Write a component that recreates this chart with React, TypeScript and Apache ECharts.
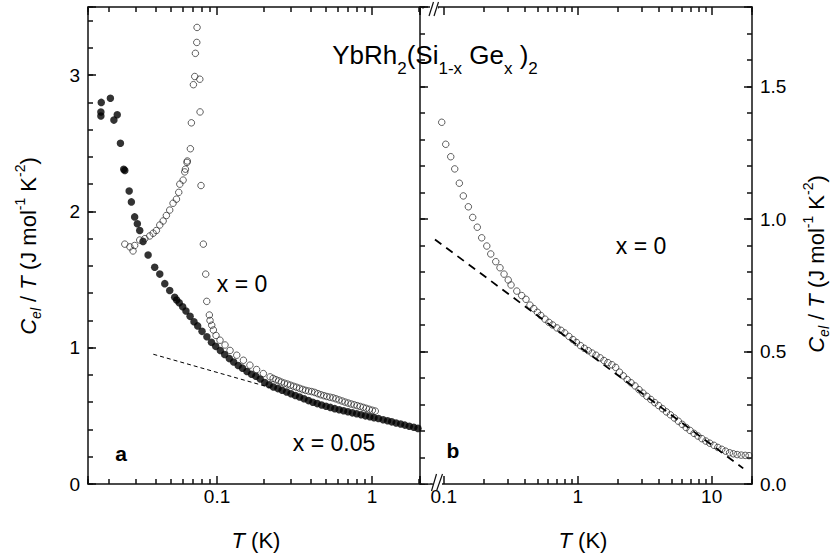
import React, { useEffect, useRef } from "react";
import * as echarts from "echarts";

const FONT = "'Liberation Sans', Arial, Helvetica, sans-serif";

// ---------- Panel a : x = 0.05 (filled circles) ----------
const A_X005_T = [
  0.0178, 0.0178, 0.0179, 0.0205, 0.0216, 0.0227, 0.0238, 0.025, 0.0254, 0.0271, 0.028, 0.0294, 0.0306, 0.0317,
  0.0333, 0.0359, 0.0396, 0.0427, 0.046, 0.0495, 0.0533, 0.0549,
  0.057, 0.06, 0.063, 0.067, 0.071, 0.075, 0.08, 0.086, 0.092, 0.098, 0.105, 0.112, 0.12, 0.128, 0.137, 0.146,
  0.156, 0.167, 0.178, 0.19, 0.203, 0.217, 0.231,
  0.247, 0.263, 0.281, 0.3, 0.32, 0.341, 0.364, 0.389, 0.415, 0.443, 0.473, 0.505, 0.539, 0.575, 0.614, 0.655,
  0.699, 0.746, 0.796, 0.85, 0.907, 0.968, 1.03, 1.1, 1.18, 1.26, 1.34, 1.43, 1.53, 1.63, 1.74, 1.86, 1.98,
];
const A_X005_C = [
  2.7, 2.73, 2.8, 2.83, 2.67, 2.71, 2.5, 2.31, 2.3, 2.15, 2.07, 1.96, 1.91, 1.86,
  1.78, 1.68, 1.59, 1.54, 1.47, 1.42, 1.37, 1.35,
  1.33, 1.3, 1.27, 1.23, 1.19, 1.16, 1.12, 1.08, 1.04, 1.01, 0.98, 0.95, 0.92, 0.895, 0.87, 0.85,
  0.825, 0.805, 0.79, 0.77, 0.745, 0.728, 0.712,
  0.7, 0.688, 0.675, 0.662, 0.65, 0.638, 0.626, 0.612, 0.6, 0.59, 0.58, 0.57, 0.562, 0.553, 0.545, 0.537,
  0.53, 0.522, 0.515, 0.508, 0.5, 0.494, 0.487, 0.48, 0.472, 0.464, 0.456, 0.448, 0.44, 0.432, 0.424, 0.416, 0.408,
];

// ---------- Panel a : x = 0 (open circles) ----------
const A_X0_T = [
  0.0254, 0.0274, 0.0287, 0.0294, 0.0317, 0.0342, 0.0368, 0.0387, 0.0406, 0.0427, 0.0449, 0.0471, 0.0495, 0.052,
  0.0547, 0.0566, 0.0575, 0.0604, 0.0619, 0.0625, 0.064, 0.0643, 0.0673, 0.0683, 0.0704, 0.0718, 0.0725, 0.074,
  0.0743, 0.0774, 0.0777, 0.0788, 0.0816, 0.0845, 0.0858, 0.0892, 0.0901, 0.0924, 0.0947, 0.0985, 0.1045, 0.1126,
  0.1213, 0.134, 0.148, 0.163, 0.18, 0.199,
  0.22, 0.23, 0.24, 0.25, 0.26, 0.272, 0.285, 0.298, 0.312, 0.326, 0.341, 0.357, 0.373, 0.39, 0.408, 0.427, 0.447,
  0.467, 0.489, 0.511, 0.535, 0.56, 0.585, 0.612, 0.641, 0.67, 0.701, 0.733, 0.767, 0.802, 0.839, 0.878, 0.918,
  0.96, 1.005, 1.05,
];
const A_X0_C = [
  1.76, 1.74, 1.71, 1.75, 1.79, 1.8, 1.82, 1.84, 1.86, 1.9, 1.93, 1.97, 2.01, 2.06,
  2.09, 2.14, 2.2, 2.23, 2.29, 2.31, 2.36, 2.37, 2.46, 2.65, 2.93, 2.99, 3.16, 3.24,
  3.35, 2.97, 2.73, 2.19, 1.76, 1.54, 1.34, 1.24, 1.2, 1.165, 1.13, 1.09, 1.055, 1.02,
  0.98, 0.945, 0.908, 0.872, 0.84, 0.81,
  0.786, 0.775, 0.765, 0.757, 0.748, 0.74, 0.733, 0.725, 0.717, 0.71, 0.702, 0.694, 0.687, 0.682, 0.678, 0.672, 0.663,
  0.655, 0.648, 0.642, 0.637, 0.632, 0.625, 0.617, 0.609, 0.601, 0.594, 0.587, 0.581, 0.575, 0.569, 0.562, 0.555,
  0.548, 0.541, 0.535,
];

// dashed guide in panel a
const A_FIT_T = [0.0388, 0.22];
const A_FIT_C = [0.952, 0.708];

// ---------- Panel b : x = 0 (open circles) ----------
const B_X0_T = [
  0.0966, 0.1035, 0.1128, 0.1208, 0.1308, 0.14, 0.1527, 0.1645, 0.178, 0.192, 0.2096, 0.2244, 0.2445, 0.263, 0.282,
  0.303, 0.318, 0.351, 0.382, 0.411,
  0.44, 0.47, 0.5, 0.53, 0.57, 0.61, 0.65, 0.7, 0.75, 0.8, 0.86, 0.92, 0.98, 1.05, 1.12, 1.2, 1.28, 1.37, 1.47,
  1.57, 1.68, 1.8, 1.92, 2.05, 2.19, 2.34, 2.5, 2.68, 2.87, 3.07, 3.28, 3.51, 3.76, 4.02, 4.3, 4.6, 4.92, 5.27,
  5.64, 6.03, 6.45, 6.9, 7.39, 7.9, 8.46, 9.05, 9.68, 10.4, 11.1, 11.9, 12.7, 13.6, 14.5, 15.5, 16.6, 17.8, 19.0,
];
const B_X0_C = [
  1.365, 1.282, 1.235, 1.189, 1.135, 1.087, 1.046, 1.006, 0.969, 0.929, 0.898, 0.868, 0.839, 0.816, 0.792,
  0.77, 0.751, 0.728, 0.711, 0.697,
  0.675, 0.662, 0.648, 0.636, 0.622, 0.61, 0.6, 0.589, 0.58, 0.57, 0.557, 0.545, 0.534, 0.522, 0.512, 0.503, 0.494,
  0.486, 0.476, 0.466, 0.458, 0.45, 0.44, 0.422, 0.408, 0.394, 0.382, 0.37, 0.356, 0.343, 0.331, 0.319, 0.307,
  0.296, 0.284, 0.272, 0.261, 0.249, 0.237, 0.225, 0.213, 0.202, 0.191, 0.181, 0.171, 0.162, 0.154, 0.146, 0.138,
  0.131, 0.124, 0.118, 0.114, 0.111, 0.109, 0.108, 0.107,
];

// dashed guide in panel b
const B_FIT_T = [0.086, 17.2];
const B_FIT_C = [0.923, 0.059];

// ---------- ticks ----------
const A_X_LABELS = [0.1, 1];
const B_X_LABELS = [0.1, 1, 10];
const A_Y_LABELS = [0, 1, 2, 3];
const B_Y_LABELS = [0, 0.5, 1, 1.5];
const LOG_TICK_MULTIPLIERS = [1, 2, 3, 4, 5, 6, 7, 8, 9]; // 1 = decade (major)
const A_Y_MAJOR_STEP = 1;
const A_Y_MINOR_STEP = 0.2;
const B_Y_MAJOR_STEP = 0.5;
const B_Y_MINOR_STEP = 0.1;

const A_T_RANGE = [0.0147, 2.04];
const B_T_RANGE = [0.0665, 20];
const A_C_RANGE = [0, 3.5];
const B_C_RANGE = [0, 1.8];

const MAJOR_LEN = 8;
const MINOR_LEN = 5;

const zip = (xs: number[], ys: number[]) => xs.map((x, i) => [x, ys[i]]);
const lineStyle = () => ({ color: "#111", width: 1.5 });
const tickLine = () => ({ color: "#111", width: 1.5 });

function fmtT(v: number) {
  return v >= 1 ? String(Math.round(v)) : String(+v.toPrecision(2));
}

function xAxes(gridIndex: number, range: number[], labels: number[]) {
  const common = () => ({
    type: "log",
    logBase: 10,
    gridIndex,
    min: range[0],
    max: range[1],
    splitLine: { show: false },
    axisTick: { show: false },
    minorTick: { show: false },
  });
  return [
    {
      ...common(),
      position: "bottom",
      axisLine: { show: true, onZero: false, lineStyle: lineStyle() },
      axisLabel: {
        show: true,
        customValues: labels,
        margin: 3,
        color: "#000",
        fontSize: 19,
        fontFamily: FONT,
        formatter: fmtT,
      },
    },
    {
      ...common(),
      position: "top",
      axisLine: { show: true, onZero: false, lineStyle: lineStyle() },
      axisLabel: { show: false },
    },
  ];
}

// Helper axes that only draw ticks. Each one is the log axis expressed in
// log10(T / k) units (same pixel mapping), so its integer ticks fall on k * 10^n.
function logTickHelpers(gridIndex: number, range: number[]) {
  const lo = Math.log10(range[0]);
  const hi = Math.log10(range[1]);
  const out: any[] = [];
  ["bottom", "top"].forEach((position) => {
    LOG_TICK_MULTIPLIERS.forEach((k) => {
      const s = Math.log10(k);
      out.push({
        type: "value",
        gridIndex,
        position,
        min: lo - s,
        max: hi - s,
        splitNumber: 2,
        minInterval: 1,
        maxInterval: 1,
        axisLine: { show: false, onZero: false },
        axisLabel: { show: false },
        splitLine: { show: false },
        axisTick: { show: true, inside: true, length: k === 1 ? MAJOR_LEN : MINOR_LEN, lineStyle: tickLine() },
      });
    });
  });
  return out;
}

function linTickHelper(gridIndex: number, range: number[], position: string, step: number, len: number) {
  return {
    type: "value",
    gridIndex,
    position,
    min: range[0],
    max: range[1],
    interval: step,
    axisLine: { show: false, onZero: false },
    axisLabel: { show: false },
    splitLine: { show: false },
    axisTick: { show: true, inside: true, length: len, lineStyle: tickLine() },
  };
}

function yAxis(gridIndex: number, range: number[], position: string, labels: number[] | null, fmt: (v: number) => string) {
  return {
    type: "value",
    gridIndex,
    min: range[0],
    max: range[1],
    position,
    splitLine: { show: false },
    axisTick: { show: false },
    axisLine: { show: true, onZero: false, lineStyle: lineStyle() },
    axisLabel: labels
      ? {
          show: true,
          customValues: labels,
          margin: 8,
          color: "#000",
          fontSize: 19,
          fontFamily: FONT,
          formatter: fmt,
        }
      : { show: false },
  };
}

const openCircle = () => ({
  color: "rgba(255,255,255,0)",
  borderColor: "#222",
  borderWidth: 0.9,
});

function yLabelRich() {
  return {
    i: { fontSize: 22, fontStyle: "italic", fontFamily: FONT, lineHeight: 30, verticalAlign: "middle", color: "#000" },
    n: { fontSize: 22, fontFamily: FONT, lineHeight: 30, verticalAlign: "middle", color: "#000" },
    sb: { fontSize: 14, fontStyle: "italic", fontFamily: FONT, lineHeight: 12, verticalAlign: "bottom", color: "#000" },
    sp: { fontSize: 14, fontFamily: FONT, lineHeight: 12, verticalAlign: "top", color: "#000" },
  };
}

const Y_LABEL = "{i|C}{sb|el}{n| / }{i|T}{n| (J mol}{sp|-1}{n| K}{sp|-2}{n|)}";

function txt(x: number, y: number, text: string, size: number, bold = false) {
  return {
    type: "text",
    x,
    y,
    z: 100,
    style: {
      text,
      fontSize: size,
      fontFamily: FONT,
      fontWeight: bold ? "bold" : "normal",
      fill: "#000",
      align: "center",
      verticalAlign: "middle",
    },
  };
}

export default function App() {
  const ref = useRef<HTMLDivElement>(null);

  useEffect(() => {
    if (!ref.current) return;
    const chart = echarts.init(ref.current, undefined, { renderer: "svg" });

    const graphic: any[] = [
      // blank the tick marks that fall inside the axis-break gap of panel b
      { type: "rect", z: 100, shape: { x: 421.5, y: 8.5, width: 19, height: 6 }, style: { fill: "#fff" } },
      { type: "rect", z: 100, shape: { x: 421.5, y: 477, width: 19, height: 6.2 }, style: { fill: "#fff" } },
      // axis-break marks
      { type: "rect", z: 100, shape: { x: 430, y: 4, width: 8, height: 7 }, style: { fill: "#fff" } },
      { type: "line", z: 101, shape: { x1: 429, y1: 16, x2: 433.5, y2: 2 }, style: { stroke: "#111", lineWidth: 1.2 } },
      { type: "line", z: 101, shape: { x1: 434, y1: 16, x2: 438.5, y2: 2 }, style: { stroke: "#111", lineWidth: 1.2 } },
      { type: "rect", z: 100, shape: { x: 433, y: 481, width: 9, height: 7 }, style: { fill: "#fff" } },
      { type: "line", z: 101, shape: { x1: 431.5, y1: 491, x2: 436.5, y2: 474 }, style: { stroke: "#111", lineWidth: 1.2 } },
      { type: "line", z: 101, shape: { x1: 436.5, y1: 491, x2: 442.5, y2: 474 }, style: { stroke: "#111", lineWidth: 1.2 } },
      // title
      {
        type: "text",
        x: 435,
        y: 55,
        z: 100,
        style: {
          text: "{n|YbRh}{s|2}{n|(Si}{s|1-x}{n| Ge}{s|x}{n| )}{s|2}",
          align: "center",
          verticalAlign: "middle",
          rich: {
            n: { fontSize: 26, fontFamily: FONT, lineHeight: 44, verticalAlign: "middle", color: "#000" },
            s: { fontSize: 17, fontFamily: FONT, lineHeight: 8, verticalAlign: "bottom", color: "#000" },
          },
        },
      },
      // y-axis names
      {
        type: "text",
        x: 28,
        y: 246,
        rotation: Math.PI / 2,
        z: 100,
        style: { text: Y_LABEL, rich: yLabelRich(), align: "center", verticalAlign: "middle" },
      },
      {
        type: "text",
        x: 816,
        y: 264,
        rotation: Math.PI / 2,
        z: 100,
        style: { text: Y_LABEL, rich: yLabelRich(), align: "center", verticalAlign: "middle" },
      },
      // x-axis names
      ...[256, 583].map((cx) => ({
        type: "text",
        x: cx,
        y: 540,
        z: 100,
        style: {
          text: "{i|T}{n| (K)}",
          align: "center",
          verticalAlign: "middle",
          rich: {
            i: { fontSize: 22, fontStyle: "italic", fontFamily: FONT, color: "#000" },
            n: { fontSize: 22, fontFamily: FONT, color: "#000" },
          },
        },
      })),
      // annotations
      txt(242, 284, "x = 0", 23),
      txt(334, 443, "x = 0.05", 23),
      txt(641, 246, "x = 0", 23),
      txt(121, 453, "a", 21, true),
      txt(453, 450, "b", 21, true),
    ];

    const option: any = {
      animation: false,
      grid: [
        { left: 88, top: 7, width: 332, height: 477 },
        { left: 420, top: 7, width: 332, height: 477 },
      ],
      xAxis: [
        ...xAxes(0, A_T_RANGE, A_X_LABELS), // 0, 1
        ...xAxes(1, B_T_RANGE, B_X_LABELS), // 2, 3
        ...logTickHelpers(0, A_T_RANGE),
        ...logTickHelpers(1, B_T_RANGE),
      ],
      yAxis: [
        yAxis(0, A_C_RANGE, "left", A_Y_LABELS, (v) => String(v)), // 0
        yAxis(1, B_C_RANGE, "right", B_Y_LABELS, (v) => v.toFixed(1)), // 1
        yAxis(1, B_C_RANGE, "left", null, (v) => v.toFixed(1)), // 2
        linTickHelper(0, A_C_RANGE, "left", A_Y_MAJOR_STEP, MAJOR_LEN),
        linTickHelper(0, A_C_RANGE, "left", A_Y_MINOR_STEP, MINOR_LEN),
        linTickHelper(1, B_C_RANGE, "right", B_Y_MAJOR_STEP, MAJOR_LEN),
        linTickHelper(1, B_C_RANGE, "right", B_Y_MINOR_STEP, MINOR_LEN),
        linTickHelper(1, B_C_RANGE, "left", B_Y_MAJOR_STEP, MAJOR_LEN),
        linTickHelper(1, B_C_RANGE, "left", B_Y_MINOR_STEP, MINOR_LEN),
      ],
      series: [
        {
          type: "scatter",
          xAxisIndex: 0,
          yAxisIndex: 0,
          data: zip(A_X005_T, A_X005_C),
          symbol: "circle",
          symbolSize: 7.5,
          itemStyle: { color: "#000" },
          z: 2,
        },
        {
          type: "scatter",
          xAxisIndex: 0,
          yAxisIndex: 0,
          data: zip(A_X0_T, A_X0_C),
          symbol: "circle",
          symbolSize: 6.5,
          itemStyle: openCircle(),
          z: 3,
        },
        {
          type: "line",
          xAxisIndex: 0,
          yAxisIndex: 0,
          data: zip(A_FIT_T, A_FIT_C),
          symbol: "none",
          lineStyle: { color: "#000", width: 1, type: [4, 3] },
          z: 4,
        },
        {
          type: "scatter",
          xAxisIndex: 2,
          yAxisIndex: 1,
          data: zip(B_X0_T, B_X0_C),
          symbol: "circle",
          symbolSize: 6.5,
          itemStyle: openCircle(),
          z: 3,
        },
        {
          type: "line",
          xAxisIndex: 2,
          yAxisIndex: 1,
          data: zip(B_FIT_T, B_FIT_C),
          symbol: "none",
          lineStyle: { color: "#000", width: 1.8, type: [8, 6] },
          z: 4,
        },
      ],
      graphic,
    };

    chart.setOption(option);
    return () => chart.dispose();
  }, []);

  return (
    <div
      ref={ref}
      style={{ position: "fixed", left: 0, top: 0, width: 835, height: 560, background: "#fff" }}
    />
  );
}
